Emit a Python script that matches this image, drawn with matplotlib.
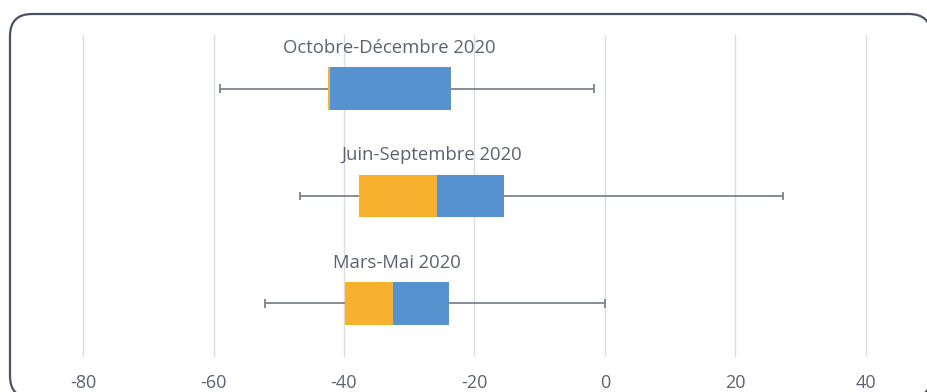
import matplotlib.pyplot as plt
from matplotlib.patches import FancyBboxPatch
from matplotlib.transforms import IdentityTransform

plt.rcParams['font.family'] = ['Open Sans', 'DejaVu Sans']
plt.rcParams['axes.unicode_minus'] = False

# Distribution per period: whisker low, Q1, median, Q3, whisker high
periods = ["Mars-Mai 2020", "Juin-Septembre 2020", "Octobre-Décembre 2020"]
whisker_low = [-52.1, -46.8, -59.0]
q1 = [-39.9, -37.7, -42.5]
median = [-32.5, -25.8, -42.2]
q3 = [-23.9, -15.5, -23.6]
whisker_high = [0.0, 27.3, -1.7]
xticks = [-80, -60, -40, -20, 0, 20, 40]

orange = "#f8b02f"
blue = "#5592cf"
text_col = "#5b6270"
line_col = "#7d838f"
grid_col = "#d9dce4"

fig = plt.figure(figsize=(9.28, 3.92), dpi=100)

# rounded frame around the chart (pixel coordinates)
frame = FancyBboxPatch((10, -6), 921, 384,
                       boxstyle="round,pad=0,rounding_size=22",
                       transform=IdentityTransform(), facecolor="white",
                       edgecolor="#4b5363", linewidth=1.6, zorder=-1)
fig.patches.append(frame)

ax = fig.add_axes([20 / 928, 35 / 392, 898 / 928, 322 / 392])
ax.set_facecolor("none")
ax.set_zorder(2)

ypos = list(range(len(periods)))
h = 0.4
for y, lo, a, m, b, hi, name in zip(ypos, whisker_low, q1, median, q3,
                                    whisker_high, periods):
    ax.hlines(y, lo, hi, color=line_col, linewidth=1.3, zorder=2)
    ax.vlines([lo, hi], y - 0.04, y + 0.04, color=line_col, linewidth=1.3, zorder=2)
    ax.barh(y, m - a, left=a, height=h, color=orange, zorder=3)
    ax.barh(y, b - m, left=m, height=h, color=blue, zorder=3)
    ax.text((a + b) / 2, y + 0.38, name, ha="center", va="center",
            fontsize=13.3, color=text_col)

ax.set_xlim(-80 - 63 / 6.525, 40 + 52 / 6.525)
ax.set_ylim(-0.5, 2.5)
ax.set_xticks(xticks)
ax.set_yticks([])
ax.grid(axis="x", color=grid_col, linewidth=1.0, zorder=1)
ax.tick_params(axis="x", length=0, pad=12, labelsize=13, labelcolor=text_col)
for s in ax.spines.values():
    s.set_visible(False)

fig.savefig("out.png", dpi=100)
